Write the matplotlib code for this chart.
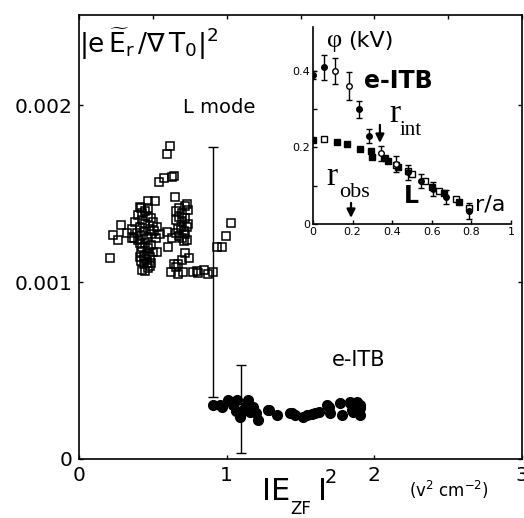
import numpy as np
import matplotlib.pyplot as plt

plt.rcParams['font.family'] = 'DejaVu Sans'
plt.rcParams['mathtext.fontset'] = 'custom'
plt.rcParams['mathtext.rm'] = 'DejaVu Sans'
plt.rcParams['mathtext.it'] = 'DejaVu Sans'
plt.rcParams['mathtext.bf'] = 'DejaVu Sans:bold'

# ---- main panel: L mode (open squares), values of |e E_r / grad T0|^2 in 1e-3
lmode_x = [0.616, 0.598, 0.542, 0.575, 0.643, 0.627, 0.650, 0.465, 0.517, 0.729,
           0.413, 0.284, 0.232, 0.262, 0.323, 0.357, 0.210, 0.594, 0.627, 0.605,
           0.530, 1.029, 0.993, 0.932, 0.970, 0.718, 0.745, 0.700, 0.623, 0.657,
           0.672, 0.706, 0.774, 0.808, 0.846, 0.876, 0.909, 0.797, 0.640, 0.670,
           # cluster 1, upper part
           0.36, 0.38, 0.39, 0.40, 0.41, 0.42, 0.42, 0.43, 0.44, 0.45,
           0.45, 0.46, 0.47, 0.48, 0.49, 0.50, 0.51, 0.52, 0.53, 0.55,
           0.37, 0.40, 0.47, 0.43, 0.49,
           # cluster 1, lower part
           0.41, 0.43, 0.45, 0.47, 0.49, 0.42, 0.44, 0.46, 0.48, 0.50,
           0.42, 0.44, 0.46, 0.48, 0.43, 0.45, 0.47, 0.45, 0.41, 0.49,
           # cluster 2
           0.66, 0.68, 0.70, 0.72, 0.74, 0.66, 0.68, 0.70, 0.72, 0.74,
           0.67, 0.69, 0.71, 0.73, 0.68, 0.70, 0.72, 0.66, 0.71, 0.73]
lmode_y = np.array([1.768, 1.727, 1.567, 1.586, 1.601, 1.595, 1.482, 1.459, 1.459, 1.444,
                    1.422, 1.322, 1.269, 1.237, 1.275, 1.247, 1.134, 1.284, 1.247, 1.199,
                    1.170, 1.332, 1.260, 1.196, 1.196, 1.166, 1.134, 1.124, 1.058, 1.087,
                    1.045, 1.055, 1.058, 1.053, 1.068, 1.044, 1.058, 1.064, 1.100, 1.100,
                    1.30, 1.34, 1.28, 1.38, 1.31, 1.42, 1.26, 1.35, 1.29, 1.40,
                    1.33, 1.25, 1.37, 1.30, 1.27, 1.34, 1.29, 1.25, 1.31, 1.27,
                    1.25, 1.24, 1.42, 1.39, 1.36,
                    1.22, 1.20, 1.22, 1.19, 1.21, 1.17, 1.15, 1.16, 1.14, 1.17,
                    1.12, 1.10, 1.11, 1.09, 1.07, 1.06, 1.08, 1.13, 1.14, 1.11,
                    1.40, 1.42, 1.39, 1.43, 1.41, 1.35, 1.37, 1.34, 1.36, 1.33,
                    1.30, 1.31, 1.29, 1.31, 1.26, 1.25, 1.27, 1.28, 1.23, 1.24]) * 1e-3

# ---- main panel: e-ITB (filled circles)
eitb_x = [0.966, 1.011, 1.045, 1.090, 1.146, 1.180, 1.214, 1.112, 0.955, 1.100,
          1.158, 1.068, 0.909, 1.280, 1.338, 1.429, 1.462, 1.519, 1.541, 1.598,
          1.677, 1.700, 1.767, 1.778, 1.835, 1.857, 1.903, 1.903, 1.442, 1.578,
          1.623, 1.690, 1.837, 1.882, 1.848, 1.905, 1.284, 1.060, 1.130, 1.200]
eitb_y = np.array([0.296, 0.333, 0.305, 0.239, 0.333, 0.296, 0.220, 0.277, 0.305, 0.258,
                   0.267, 0.333, 0.305, 0.277, 0.249, 0.258, 0.249, 0.239, 0.249, 0.258,
                   0.305, 0.258, 0.315, 0.249, 0.315, 0.267, 0.249, 0.305, 0.258, 0.254,
                   0.267, 0.296, 0.324, 0.324, 0.277, 0.286, 0.277, 0.270, 0.300, 0.260]) * 1e-3

# error bars of the main panel
err_x = [0.909, 1.100]
err_y = np.array([1.058, 0.284]) * 1e-3
err_e = np.array([0.706, 0.248]) * 1e-3

# ---- inset: potential profile phi (kV) vs r/a
itb_r = [0.0, 0.057, 0.113, 0.183, 0.231, 0.285, 0.345, 0.420, 0.480, 0.547, 0.606, 0.673, 0.789]
itb_phi = [0.390, 0.410, 0.400, 0.360, 0.300, 0.230, 0.185, 0.157, 0.135, 0.113, 0.092, 0.071, 0.034]
itb_err = [0.010, 0.033, 0.033, 0.037, 0.022, 0.018, 0.020, 0.020, 0.020, 0.018, 0.018, 0.018, 0.022]
itb_open = [False, False, True, True, False, False, True, True, False, False, False, False, False]

lsq_r = [0.0, 0.056, 0.123, 0.173, 0.237, 0.291, 0.300, 0.364, 0.380, 0.419,
         0.430, 0.481, 0.498, 0.566, 0.600, 0.638, 0.660, 0.722, 0.739, 0.790]
lsq_phi = [0.220, 0.222, 0.214, 0.209, 0.197, 0.190, 0.175, 0.172, 0.165, 0.155,
           0.148, 0.138, 0.132, 0.112, 0.098, 0.085, 0.080, 0.066, 0.058, 0.041]
lsq_open = [False, True, False, False, False, False, False, False, False, True,
            False, True, True, True, False, True, False, True, False, True]

W, H = 524, 518


def fx(px):
    return px / W


def fy(py):
    return 1 - py / H


fig = plt.figure(figsize=(W / 100, H / 100), dpi=100)

ax = fig.add_axes([fx(79), fy(459), (522 - 79) / W, (459 - 15) / H])
ax.plot(lmode_x, lmode_y, 's', mfc='none', mec='k', ms=5.5, mew=1.1)
ax.plot(eitb_x, eitb_y, 'o', color='k', ms=7)
ax.errorbar(err_x, err_y, yerr=err_e, fmt='none', ecolor='k',
            elinewidth=1, capsize=3.5, capthick=1)
ax.set_xlim(0, 3)
ax.set_ylim(0, 0.00251)
ax.set_xticks([0, 1, 2, 3])
ax.set_xticklabels(['0', '1', '2', '3'])
ax.set_xticks([0.5, 1.5, 2.5], minor=True)
ax.set_yticks([0, 0.001, 0.002])
ax.set_yticklabels(['0', '0.001', '0.002'])
ax.tick_params(axis='both', which='major', direction='in', length=3, width=1,
               labelsize=14.5, pad=5, top=True, right=True)
ax.tick_params(axis='x', which='minor', direction='in', length=3, width=1,
               bottom=False, top=True)
for s in ax.spines.values():
    s.set_linewidth(1.2)

fig.text(fx(79), fy(26), r'$|e\,\widetilde{E}_r\,/\nabla\,T_0|^2$', fontsize=19, va='top')
fig.text(fx(183), fy(113), 'L mode', fontsize=14)
fig.text(fx(332), fy(366), 'e-ITB', fontsize=15)

# x axis label
fig.text(fx(262), fy(500), 'IE', fontsize=22)
fig.text(fx(290), fy(518), 'ZF', fontsize=12, va='bottom')
fig.text(fx(318), fy(500), 'I', fontsize=22)
fig.text(fx(325), fy(483), '2', fontsize=14)
fig.text(fx(409), fy(490), r'(v$^2$ cm$^{-2}$)', fontsize=12, va='center')

# ---- inset
ax2 = fig.add_axes([fx(313), fy(224), (511 - 313) / W, (224 - 27) / H])
ax2.patch.set_alpha(0)
for i in range(len(itb_r)):
    face = 'white' if itb_open[i] else 'k'
    ax2.errorbar(itb_r[i], itb_phi[i], yerr=itb_err[i], fmt='o', mfc=face, mec='k',
                 ms=4, mew=1, ecolor='k', elinewidth=1, capsize=2.5, capthick=1)
for i in range(len(lsq_r)):
    face = 'white' if lsq_open[i] else 'k'
    ax2.plot(lsq_r[i], lsq_phi[i], 's', mfc=face, mec='k', ms=4.5, mew=1)
ax2.set_xlim(0, 1)
ax2.set_ylim(0, 0.515)
ax2.set_xticks([0, 0.2, 0.4, 0.6, 0.8, 1])
ax2.set_xticklabels(['0', '0.2', '0.4', '0.6', '0.8', '1'])
ax2.set_yticks([0, 0.1, 0.2, 0.3, 0.4])
ax2.set_yticklabels(['0', '', '0.2', '', '0.4'])
ax2.tick_params(direction='in', length=3, width=1, labelsize=8, pad=2)
ax2.spines['top'].set_visible(False)
ax2.spines['right'].set_visible(False)
for s in ['left', 'bottom']:
    ax2.spines[s].set_linewidth(1.2)

serif = 'Liberation Serif'
fig.text(fx(327), fy(47), '\u03c6', fontsize=19, family=serif)
fig.text(fx(348), fy(47), '(kV)', fontsize=16)
fig.text(fx(364), fy(88), 'e-ITB', fontsize=17, weight='bold')
fig.text(fx(389), fy(122), 'r', fontsize=24, family=serif)
fig.text(fx(400), fy(135), 'int', fontsize=15, family=serif)
fig.text(fx(326), fy(185), 'r', fontsize=24, family=serif)
fig.text(fx(339), fy(197), 'obs', fontsize=16, family=serif)
fig.text(fx(404), fy(203), 'L', fontsize=17, weight='bold')
fig.text(fx(475), fy(211), 'r/a', fontsize=16)

arrow = dict(arrowstyle='-|>,head_width=0.25,head_length=0.5', lw=1.6, color='k',
             shrinkA=0, shrinkB=0)
ax2.annotate('', xy=(0.338, 0.212), xytext=(0.338, 0.259), arrowprops=arrow)
ax2.annotate('', xy=(0.192, 0.016), xytext=(0.192, 0.055), arrowprops=arrow)

fig.savefig('out.png', dpi=100)
